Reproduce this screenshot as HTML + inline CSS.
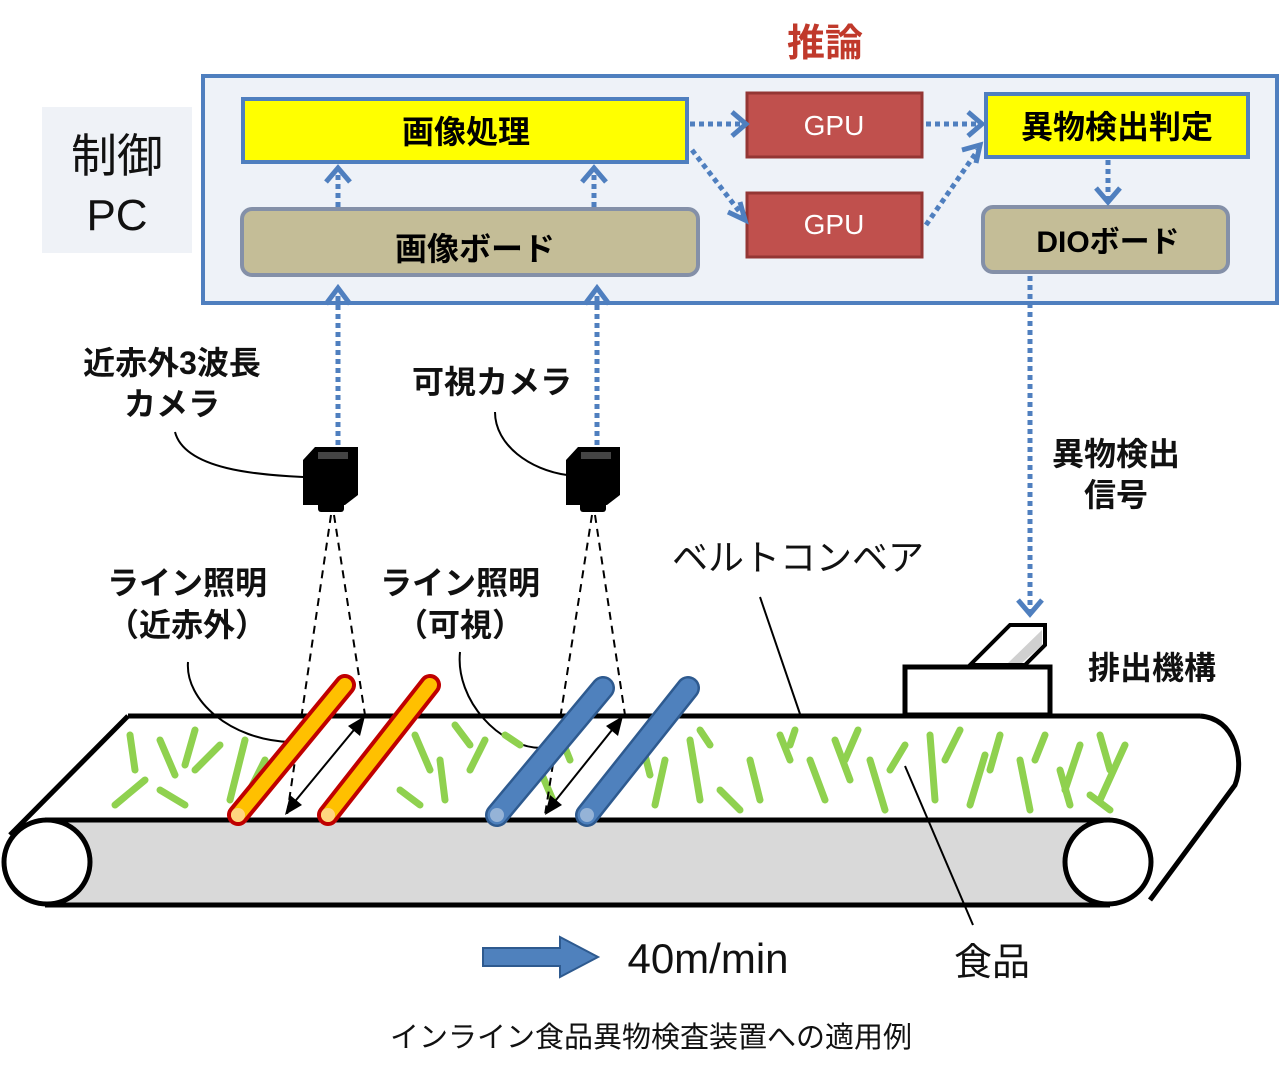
<!DOCTYPE html>
<html><head><meta charset="utf-8"><style>
html,body{margin:0;padding:0;background:#fff;}
svg{display:block;}
text{font-family:"Liberation Sans","Noto Sans CJK JP",sans-serif;}
</style></head><body>
<svg width="1280" height="1072" viewBox="0 0 1280 1072" xmlns="http://www.w3.org/2000/svg">
<text x="825" y="56" font-size="38" font-weight="bold" fill="#c0392b" text-anchor="middle">推論</text>
<rect x="42" y="107" width="150" height="146" fill="#eff2f7"/>
<text x="117" y="172" font-size="46" text-anchor="middle" fill="#111">制御</text>
<text x="117" y="230" font-size="44" text-anchor="middle" fill="#111">PC</text>
<rect x="203" y="76" width="1074" height="227" fill="#eef2f8" stroke="#4f7fbf" stroke-width="4"/>
<rect x="243" y="99" width="444" height="63" fill="#ffff00" stroke="#4f7fbf" stroke-width="4"/>
<text x="466" y="143" font-size="32" font-weight="bold" text-anchor="middle">画像処理</text>
<rect x="242" y="209" width="456" height="66" rx="10" fill="#c4bd97" stroke="#8490a8" stroke-width="4"/>
<text x="475" y="260" font-size="32" font-weight="bold" text-anchor="middle">画像ボード</text>
<rect x="747" y="93" width="175" height="64" fill="#c0504d" stroke="#943634" stroke-width="3"/>
<text x="834" y="135" font-size="28" fill="#fff" text-anchor="middle">GPU</text>
<rect x="747" y="193" width="175" height="64" fill="#c0504d" stroke="#943634" stroke-width="3"/>
<text x="834" y="234" font-size="28" fill="#fff" text-anchor="middle">GPU</text>
<rect x="986" y="94" width="262" height="63" fill="#ffff00" stroke="#4f7fbf" stroke-width="4"/>
<text x="1117" y="138" font-size="32" font-weight="bold" text-anchor="middle">異物検出判定</text>
<rect x="983" y="207" width="245" height="65" rx="10" fill="#c4bd97" stroke="#8490a8" stroke-width="4"/>
<text x="1108" y="252" font-size="30" font-weight="bold" text-anchor="middle">DIOボード</text>
<g stroke="#4f7fbf" stroke-width="5" fill="none" stroke-dasharray="5 4">
<line x1="338" y1="207" x2="338" y2="168"/>
<line x1="594" y1="207" x2="594" y2="168"/>
<line x1="690" y1="124" x2="742" y2="124"/>
<line x1="926" y1="124" x2="978" y2="124"/>
<line x1="692" y1="150" x2="742" y2="215"/>
<line x1="926" y1="225" x2="978" y2="150"/>
<line x1="1108" y1="160" x2="1108" y2="200"/>
<line x1="338" y1="445" x2="338" y2="290"/>
<line x1="597" y1="445" x2="597" y2="290"/>
<line x1="1030" y1="276" x2="1030" y2="612"/>
</g>
<g stroke="#4f7fbf" stroke-width="5" fill="none">
<polyline points="326,182 338,168 350,182"/>
<polyline points="582,182 594,168 606,182"/>
<polyline points="326,304 338,288 350,304"/>
<polyline points="585,304 597,288 609,304"/>
<polyline points="732,112 746,124 732,136"/>
<polyline points="968,112 982,124 968,136"/>
<polyline points="1096,188 1108,202 1120,188"/>
<polyline points="1018,600 1030,614 1042,600"/>
<polyline points="728,212 745,220 740,202"/>
<polyline points="962,150 980,145 976,163"/>
</g>
<g font-size="32" font-weight="bold" fill="#111" text-anchor="middle">
<text x="172" y="374">近赤外3波長</text>
<text x="172" y="415">カメラ</text>
<text x="492" y="393">可視カメラ</text>
<text x="187" y="594">ライン照明</text>
<text x="187" y="636">（近赤外）</text>
<text x="460" y="594">ライン照明</text>
<text x="460" y="636">（可視）</text>
<text x="1116" y="465">異物検出</text>
<text x="1116" y="506">信号</text>
<text x="1152" y="679">排出機構</text>
</g>
<text x="798" y="570" font-size="36" fill="#111" text-anchor="middle">ベルトコンベア</text>
<text x="992" y="975" font-size="38" fill="#111" text-anchor="middle">食品</text>
<text x="708" y="973" font-size="42" fill="#111" text-anchor="middle">40m/min</text>
<text x="651" y="1047" font-size="29" fill="#111" text-anchor="middle">インライン食品異物検査装置への適用例</text>
<g stroke="#000" stroke-width="2" fill="none">
<path d="M175,432 C185,470 260,475 303,477"/>
<path d="M495,412 C495,445 530,470 567,475"/>
<path d="M188,662 C185,700 230,740 290,742"/>
<path d="M460,652 C455,700 500,750 545,748"/>
<line x1="760" y1="597" x2="800" y2="714"/>
</g>
<path d="M45,820 L1110,820 L1110,905 L45,905 Z" fill="#d9d9d9"/>
<g stroke="#000" stroke-width="5" fill="none">
<line x1="128" y1="716" x2="1200" y2="716"/>
<path d="M128,716 L10,835"/>
<path d="M1200,716 C1235,718 1245,760 1235,785 L1150,900"/>
<line x1="45" y1="820" x2="1110" y2="820"/>
<line x1="45" y1="905" x2="1110" y2="905"/>
</g>
<ellipse cx="47" cy="862" rx="43" ry="42" fill="#fff" stroke="#000" stroke-width="5"/>
<ellipse cx="1108" cy="862" rx="43" ry="42" fill="#fff" stroke="#000" stroke-width="5"/>
<g stroke="#8fd14f" stroke-width="7" stroke-linecap="round">
<line x1="130" y1="735" x2="135" y2="770"/><line x1="160" y1="740" x2="175" y2="775"/>
<line x1="195" y1="730" x2="185" y2="765"/><line x1="220" y1="745" x2="195" y2="770"/>
<line x1="115" y1="805" x2="145" y2="780"/><line x1="160" y1="790" x2="185" y2="805"/>
<line x1="245" y1="740" x2="230" y2="800"/><line x1="265" y1="760" x2="250" y2="790"/>
<line x1="415" y1="735" x2="430" y2="770"/><line x1="440" y1="760" x2="445" y2="800"/>
<line x1="455" y1="725" x2="470" y2="745"/><line x1="470" y1="770" x2="485" y2="740"/>
<line x1="400" y1="790" x2="420" y2="805"/><line x1="505" y1="735" x2="520" y2="745"/>
<line x1="640" y1="735" x2="650" y2="775"/><line x1="665" y1="760" x2="655" y2="805"/>
<line x1="690" y1="740" x2="700" y2="800"/><line x1="700" y1="730" x2="710" y2="745"/>
<line x1="720" y1="790" x2="740" y2="810"/><line x1="750" y1="760" x2="760" y2="800"/>
<line x1="780" y1="735" x2="790" y2="760"/><line x1="795" y1="730" x2="790" y2="745"/>
<line x1="810" y1="760" x2="825" y2="800"/><line x1="835" y1="740" x2="850" y2="780"/>
<line x1="858" y1="730" x2="845" y2="760"/><line x1="870" y1="760" x2="885" y2="810"/>
<line x1="905" y1="745" x2="890" y2="770"/><line x1="930" y1="735" x2="935" y2="800"/>
<line x1="960" y1="730" x2="945" y2="760"/><line x1="985" y1="755" x2="970" y2="805"/>
<line x1="1000" y1="735" x2="990" y2="770"/><line x1="1020" y1="760" x2="1030" y2="810"/>
<line x1="1045" y1="735" x2="1035" y2="760"/><line x1="1060" y1="770" x2="1070" y2="805"/>
<line x1="1080" y1="745" x2="1065" y2="790"/><line x1="1100" y1="735" x2="1110" y2="770"/>
<line x1="1125" y1="745" x2="1100" y2="800"/><line x1="1090" y1="795" x2="1110" y2="810"/>
<line x1="560" y1="735" x2="570" y2="760"/><line x1="540" y1="770" x2="555" y2="805"/>
</g>
<line x1="905" y1="766" x2="973" y2="925" stroke="#000" stroke-width="2"/>
<rect x="905" y="667" width="145" height="48" fill="#fff" stroke="#000" stroke-width="5"/>
<polygon points="970,665 1010,625 1045,625 1045,645 1025,665" fill="#fff" stroke="#000" stroke-width="4"/>
<polygon points="1008,663 1042,630 1042,645 1022,663" fill="#d0d0d0"/>
<g fill="#000">
<polygon points="303,460 315,447 358,447 358,495 345,505 303,505"/>
<rect x="318" y="500" width="26" height="12" rx="3"/>
<polygon points="566,460 578,447 620,447 620,495 607,505 566,505"/>
<rect x="580" y="500" width="26" height="12" rx="3"/>
</g>
<rect x="318" y="452" width="30" height="7" fill="#444"/>
<rect x="581" y="452" width="30" height="7" fill="#444"/>
<g stroke="#000" stroke-width="2" stroke-dasharray="8 6" fill="none">
<line x1="331" y1="515" x2="287" y2="815"/>
<line x1="334" y1="515" x2="365" y2="715"/>
<line x1="592" y1="515" x2="545" y2="815"/>
<line x1="595" y1="515" x2="625" y2="715"/>
</g>
<g stroke-linecap="round">
<line x1="238" y1="815" x2="345" y2="685" stroke="#c00000" stroke-width="22"/>
<line x1="238" y1="815" x2="345" y2="685" stroke="#ffc000" stroke-width="14"/>
<line x1="328" y1="815" x2="430" y2="685" stroke="#c00000" stroke-width="22"/>
<line x1="328" y1="815" x2="430" y2="685" stroke="#ffc000" stroke-width="14"/>
<line x1="497" y1="815" x2="603" y2="688" stroke="#2e5a8f" stroke-width="24"/>
<line x1="497" y1="815" x2="603" y2="688" stroke="#4f81bd" stroke-width="19"/>
<line x1="587" y1="815" x2="688" y2="688" stroke="#2e5a8f" stroke-width="24"/>
<line x1="587" y1="815" x2="688" y2="688" stroke="#4f81bd" stroke-width="19"/>
</g>
<circle cx="238" cy="815" r="7" fill="#ffd580"/><circle cx="328" cy="815" r="7" fill="#ffd580"/>
<circle cx="497" cy="815" r="7" fill="#95b3d7"/><circle cx="587" cy="815" r="7" fill="#95b3d7"/>
<g stroke="#000" stroke-width="2">
<line x1="292" y1="805" x2="358" y2="725"/>
<line x1="552" y1="805" x2="616" y2="725"/>
</g>
<g fill="#000">
<polygon points="285,815 290,795 302,805"/>
<polygon points="365,716 360,736 348,726"/>
<polygon points="545,815 550,795 562,805"/>
<polygon points="623,716 618,736 606,726"/>
</g>
<polygon points="483,948 560,948 560,937 598,957 560,977 560,966 483,966" fill="#4f81bd" stroke="#2e5a8f" stroke-width="2"/>
</svg>
</body></html>
